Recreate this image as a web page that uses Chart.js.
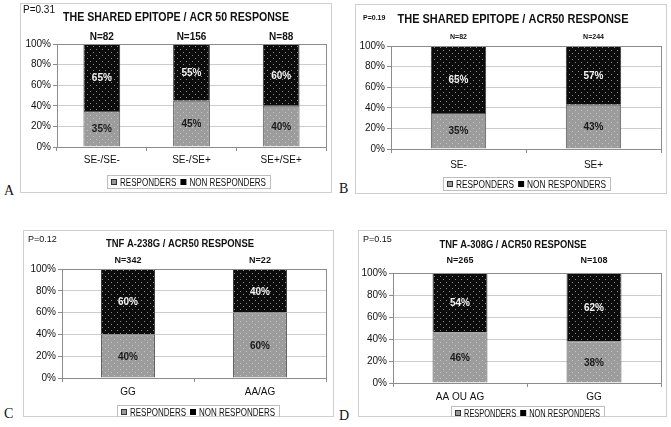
<!DOCTYPE html>
<html>
<head>
<meta charset="utf-8">
<script src="https://cdn.jsdelivr.net/npm/chart.js@4"></script>
<style>
  body { margin: 0; width: 671px; height: 427px; background: #fff; position: relative; overflow: hidden; }
  .panel { position: absolute; border: 1px solid #cfcfcf; box-sizing: border-box; }
  .panel canvas { position: absolute; left: 0; top: 0; }
  .letter { position: absolute; font-family: 'Liberation Serif', 'Times New Roman', serif; font-size: 14px; color: #111; }
</style>
</head>
<body>
<div class="panel" id="boxA" style="left:20px;top:3px;width:312px;height:190px"><canvas id="chartA"></canvas></div>
<div class="panel" id="boxB" style="left:355px;top:4px;width:312px;height:190px"><canvas id="chartB"></canvas></div>
<div class="panel" id="boxC" style="left:23px;top:230px;width:311px;height:187px"><canvas id="chartC"></canvas></div>
<div class="panel" id="boxD" style="left:358px;top:230px;width:309px;height:187px"><canvas id="chartD"></canvas></div>
<div class="letter" style="left:4px;top:183px">A</div>
<div class="letter" style="left:339px;top:181px">B</div>
<div class="letter" style="left:4px;top:406px">C</div>
<div class="letter" style="left:339px;top:408px">D</div>
<script>
// Panel A data
const aLabels = ['SE-/SE-', 'SE-/SE+', 'SE+/SE+'];
const aResp = [35, 45, 40];
const aNonResp = [65, 55, 60];
const aN = ['N=82', 'N=156', 'N=88'];

// Panel B data
const bLabels = ['SE-', 'SE+'];
const bResp = [35, 43];
const bNonResp = [65, 57];
const bN = ['N=82', 'N=244'];

// Panel C data
const cLabels = ['GG', 'AA/AG'];
const cResp = [40, 60];
const cNonResp = [60, 40];
const cN = ['N=342', 'N=22'];

// Panel D data
const dLabels = ['AA OU AG', 'GG'];
const dResp = [46, 38];
const dNonResp = [54, 62];
const dN = ['N=265', 'N=108'];

const yTicks = [0, 20, 40, 60, 80, 100];
const seriesNames = ['RESPONDERS', 'NON RESPONDERS'];

const FONT = "'Liberation Sans', Arial, sans-serif";

// dotted fills like the original excel patterns
function makePattern(base, dot) {
    const p = document.createElement('canvas');
    p.width = 6; p.height = 6;
    const c = p.getContext('2d');
    c.fillStyle = base;
    c.fillRect(0, 0, 6, 6);
    c.fillStyle = dot;
    c.fillRect(1, 1, 1, 1);
    c.fillRect(4, 4, 1, 1);
    return c.createPattern(p, 'repeat');
}

// the scanned titles are a bit condensed, so squeeze text to a width
function squeezeText(c, text, x, y, width) {
    const w = c.measureText(text).width;
    const k = Math.min(1.1, width / w);
    c.save();
    c.translate(x, y);
    c.scale(k, 1);
    c.fillText(text, 0, 0);
    c.restore();
    return w * k;
}

function makeChart(cfg) {
    const box = document.getElementById(cfg.box);
    const canvas = document.getElementById(cfg.id);
    const W = box.clientWidth + 2, H = box.clientHeight + 2;
    canvas.width = W; canvas.height = H;
    canvas.style.left = '-1px'; canvas.style.top = '-1px';
    const ctx = canvas.getContext('2d');

    const grayFill = makePattern('#9c9c9c', '#c6c6c6');
    const blackFill = makePattern('#0c0c0c', '#8a8a8a');

    // draws titles, N labels, value labels, legend and the plot frame
    const annotate = {
        id: 'annotate',
        afterDatasetsDraw(chart) {
            const c = chart.ctx;
            const area = chart.chartArea;
            c.save();
            c.strokeStyle = '#8c8c8c';
            c.lineWidth = 1;
            c.strokeRect(Math.round(area.left) + 0.5, Math.round(area.top) + 0.5,
                Math.round(area.right - area.left), Math.round(area.bottom - area.top));

            c.textBaseline = 'middle';
            c.fillStyle = '#111';
            c.textAlign = 'left';
            c.font = cfg.pFont + ' ' + FONT;
            c.fillText(cfg.pText, cfg.pX, cfg.pY);

            c.textAlign = 'center';
            c.font = 'bold ' + cfg.titleSize + 'px ' + FONT;
            squeezeText(c, cfg.title, cfg.titleX, cfg.titleY, cfg.titleW);

            const m0 = chart.getDatasetMeta(0);
            const m1 = chart.getDatasetMeta(1);
            c.font = 'bold ' + cfg.nSize + 'px ' + FONT;
            m0.data.forEach((bar, i) => {
                c.fillStyle = '#111';
                c.fillText(cfg.n[i], bar.x, cfg.nY);
            });

            c.font = 'bold 10px ' + FONT;
            m0.data.forEach((bar, i) => {
                c.fillStyle = '#1a1a1a';
                c.fillText(cfg.resp[i] + '%', bar.x, (bar.y + bar.base) / 2 + 1);
            });
            m1.data.forEach((bar, i) => {
                c.fillStyle = '#f4f4f4';
                c.fillText(cfg.nonResp[i] + '%', bar.x, (bar.y + bar.base) / 2 + 1);
            });

            // legend, squeezed into the box width
            const lw = cfg.legW, lx = Math.round(cfg.legCX - lw / 2), ly = cfg.legY;
            c.strokeStyle = '#bdbdbd';
            c.strokeRect(lx + 0.5, ly - 6.5, lw, 13);
            c.font = '10px ' + FONT;
            c.textAlign = 'left';
            const t0 = c.measureText(seriesNames[0]).width;
            const t1 = c.measureText(seriesNames[1]).width;
            const k = (lw - 4 - 9 - 4 - 9 - 4) / (t0 + t1);
            let x = lx + 4;
            c.fillStyle = '#999';
            c.fillRect(x, ly - 3, 6, 6);
            c.strokeStyle = '#333';
            c.strokeRect(x + 0.5, ly - 2.5, 5, 5);
            c.fillStyle = '#111';
            squeezeText(c, seriesNames[0], x + 9, ly + 1, t0 * k);
            x += 9 + t0 * k + 4;
            c.fillStyle = '#000';
            c.fillRect(x, ly - 3, 6, 6);
            c.fillStyle = '#111';
            squeezeText(c, seriesNames[1], x + 9, ly + 1, t1 * k);
            c.restore();
        }
    };

    new Chart(ctx, {
        type: 'bar',
        data: {
            labels: cfg.labels,
            datasets: [
                {
                    label: seriesNames[0],
                    data: cfg.resp,
                    backgroundColor: grayFill,
                    borderColor: '#555',
                    borderWidth: 1,
                    barPercentage: 0.41,
                    categoryPercentage: 1
                },
                {
                    label: seriesNames[1],
                    data: cfg.nonResp,
                    backgroundColor: blackFill,
                    borderColor: '#333',
                    borderWidth: 1,
                    barPercentage: 0.41,
                    categoryPercentage: 1
                }
            ]
        },
        options: {
            responsive: false,
            animation: false,
            layout: { padding: { left: 0, top: cfg.top, right: W - cfg.right, bottom: 0 } },
            plugins: { legend: { display: false }, title: { display: false }, tooltip: { enabled: false } },
            scales: {
                x: {
                    stacked: true,
                    offset: true,
                    grid: { display: true, drawOnChartArea: false, offset: true, tickLength: 4, color: '#8c8c8c' },
                    border: { color: '#8c8c8c' },
                    ticks: { color: '#111', font: { family: FONT, size: 10 }, padding: cfg.xPad, maxRotation: 0 },
                    afterFit: (s) => { s.height = H - cfg.bottom; }
                },
                y: {
                    stacked: true,
                    min: 0,
                    max: 100,
                    afterBuildTicks: (s) => { s.ticks = yTicks.map(v => ({ value: v })); },
                    grid: { color: '#cdcdcd', tickLength: 4, tickColor: '#8c8c8c' },
                    border: { color: '#8c8c8c' },
                    ticks: { color: '#111', font: { family: FONT, size: 10 }, padding: 2, callback: (v) => v + '%' },
                    afterFit: (s) => { s.width = cfg.left; }
                }
            }
        },
        plugins: [annotate]
    });
}

makeChart({
    box: 'boxA', id: 'chartA', labels: aLabels, resp: aResp, nonResp: aNonResp, n: aN,
    left: 37, right: 306, top: 41, bottom: 144, xPad: 3,
    title: 'THE SHARED EPITOPE / ACR 50 RESPONSE', titleSize: 12, titleX: 156, titleY: 15, titleW: 226,
    pText: 'P=0.31', pFont: '10px', pX: 3, pY: 7,
    nSize: 10, nY: 34, legCX: 168, legY: 179, legW: 163
});
makeChart({
    box: 'boxB', id: 'chartB', labels: bLabels, resp: bResp, nonResp: bNonResp, n: bN,
    left: 36, right: 306, top: 42, bottom: 145, xPad: 6,
    title: 'THE SHARED EPITOPE / ACR50 RESPONSE', titleSize: 12, titleX: 158, titleY: 16, titleW: 231,
    pText: 'P=0.19', pFont: 'bold 7px', pX: 8, pY: 14,
    nSize: 7, nY: 33, legCX: 171, legY: 180, legW: 167
});
makeChart({
    box: 'boxC', id: 'chartC', labels: cLabels, resp: cResp, nonResp: cNonResp, n: cN,
    left: 39, right: 303, top: 39, bottom: 148, xPad: 4,
    title: 'TNF A-238G / ACR50 RESPONSE', titleSize: 10, titleX: 157, titleY: 14, titleW: 148,
    pText: 'P=0.12', pFont: '9px', pX: 5, pY: 10,
    nSize: 9, nY: 31, legCX: 175, legY: 182, legW: 162
});
makeChart({
    box: 'boxD', id: 'chartD', labels: dLabels, resp: dResp, nonResp: dNonResp, n: dN,
    left: 35, right: 303, top: 43, bottom: 153, xPad: 4,
    title: 'TNF A-308G / ACR50 RESPONSE', titleSize: 10, titleX: 155, titleY: 15, titleW: 147,
    pText: 'P=0.15', pFont: '9px', pX: 5, pY: 10,
    nSize: 9, nY: 31, legCX: 169, legY: 183, legW: 153
});
</script>
</body>
</html>
